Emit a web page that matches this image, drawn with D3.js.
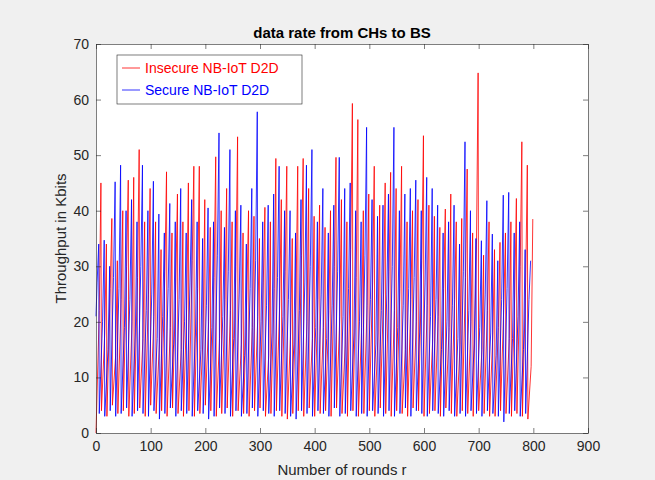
<!DOCTYPE html>
<html>
<head>
<meta charset="utf-8">
<script src="https://cdn.jsdelivr.net/npm/d3@7"></script>
<style>
  body { margin: 0; background: #f0f0f0; }
  svg { display: block; font-family: "Liberation Sans", Arial, sans-serif; }
</style>
</head>
<body>
<div id="chart"></div>
<script>
// one cycle per 10 rounds: trough, mid (on the rise), peak
const period = 10;
const seriesNames = ["Insecure NB-IoT D2D", "Secure NB-IoT D2D"];
const xTicks = [0, 100, 200, 300, 400, 500, 600, 700, 800, 900];
const yTicks = [0, 10, 20, 30, 40, 50, 60, 70];

const redPeaks = [45, 34, 38.6, 31, 40, 45.5, 46, 51, 38, 44,
  38, 33, 47, 36, 43, 38, 45, 48, 48, 42,
  37, 49.7, 40, 44, 38, 53.3, 36, 40, 39, 35,
  40.6, 38, 49.4, 42, 48, 35, 48, 49.4, 44, 39,
  41, 37, 40, 49.6, 42, 38, 59.3, 56.4, 40, 43,
  48, 41, 45, 46.9, 44, 48, 38, 40, 42, 53.5,
  41, 39, 37, 40.3, 43, 38, 38.6, 47.5, 36, 64.8,
  32, 38, 33, 34.3, 36, 38, 42.2, 52.4, 48.2, 38.5];
const redMids = [22, 18, 26, 14, 24, 30, 20, 28, 17, 25,
  21, 16, 29, 19, 27, 15, 23, 31, 26, 18,
  20, 28, 17, 24, 22, 30, 16, 25, 19, 21,
  27, 14, 26, 23, 29, 18, 25, 32, 20, 17,
  24, 19, 22, 30, 21, 16, 33, 28, 19, 23,
  27, 18, 25, 29, 22, 26, 15, 24, 20, 31,
  23, 17, 21, 26, 19, 24, 16, 28, 20, 34,
  15, 22, 18, 19, 23, 17, 25, 30, 27, 12];
const redTroughs = [0, 4, 3, 5, 3.5, 4, 3, 3.5, 4.5, 3,
  5, 3.5, 4, 3, 4.5, 3.5, 3, 4, 3, 3.5,
  5, 4, 3, 3.5, 4.5, 3, 4, 3.5, 3, 4,
  4.5, 3, 3.5, 4, 3, 2.5, 3.5, 4, 3, 4.5,
  3, 3.5, 4, 3, 4.5, 3.5, 3, 4, 3, 3.5,
  4, 3, 4.5, 3.5, 3, 4, 3.5, 3, 4.5, 4,
  3, 3.5, 4, 3, 4.5, 3.5, 3, 4, 3.5, 3,
  4, 3.5, 3, 3, 4, 3.5, 3, 3.5, 3, 2.5];

const bluePeaks = [34, 34.7, 30, 45.2, 48.2, 40, 42, 38, 48.2, 40,
  45.3, 39.4, 36, 41.3, 38, 44, 36, 42, 38, 35,
  40.5, 38, 54, 37, 51, 40, 41, 34, 44, 57.8,
  38, 41, 43, 48, 40, 40, 36, 42, 48.2, 51,
  38, 44, 36, 41, 49.6, 44, 45, 40, 38, 55,
  42, 39, 41, 43, 55, 40, 43, 44, 45.5, 40,
  46, 44, 41, 36, 38, 41, 34, 52.4, 40, 35,
  34.6, 41.8, 35.8, 31, 42.8, 43.3, 36, 38, 33, 31];
const blueMids = [27, 20, 15, 28, 26, 19, 24, 18, 30, 22,
  25, 17, 21, 26, 16, 24, 20, 27, 18, 15,
  23, 19, 32, 21, 29, 17, 25, 14, 26, 31,
  20, 23, 18, 28, 21, 24, 16, 22, 27, 30,
  19, 25, 17, 23, 29, 21, 26, 18, 20, 32,
  24, 16, 22, 25, 30, 19, 23, 26, 28, 18,
  27, 21, 24, 15, 20, 23, 17, 29, 22, 16,
  19, 25, 18, 14, 24, 26, 17, 21, 15, 24];
const blueTroughs = [21, 3.5, 3, 4, 3, 3.5, 4.5, 3, 4, 3.5,
  3, 4, 2.5, 3.5, 4.5, 3, 4, 3.5, 3, 4,
  3.5, 2.5, 3, 4.5, 3.5, 3, 4, 3, 3.5, 4.5,
  3, 4, 3.5, 3, 4, 3.5, 3, 2.5, 4, 3.5,
  3, 4, 3.5, 3, 4.5, 3, 3.5, 4, 3, 3.5,
  3, 4, 3.5, 3, 4, 3, 3.5, 4.5, 3, 4,
  3.5, 3, 4, 3.5, 3, 4, 3, 3.5, 3, 4,
  3.5, 3, 4, 3.5, 3, 2, 3.5, 4, 3, 3.5];

// trough -> mid -> peak per cycle, shifted in rounds
function buildSeries(troughs, mids, peaks, shift) {
  const pts = [];
  troughs.forEach((t, k) => {
    pts.push([Math.max(0, k * period + shift), t]);
    pts.push([Math.max(0, k * period + 6 + shift), mids[k]]);
    pts.push([Math.max(0, k * period + 9 + shift), peaks[k]]);
  });
  return pts;
}

const width = 655;
const height = 480;
const margin = { top: 44, right: 67, bottom: 47, left: 96 };
const innerWidth = width - margin.left - margin.right;
const innerHeight = height - margin.top - margin.bottom;

const svg = d3.select("#chart").append("svg")
  .attr("width", width)
  .attr("height", height);

const g = svg.append("g")
  .attr("transform", `translate(${margin.left},${margin.top})`);

const xScale = d3.scaleLinear().domain([0, 900]).range([0, innerWidth]);
const yScale = d3.scaleLinear().domain([0, 70]).range([innerHeight, 0]);

g.append("rect")
  .attr("width", innerWidth)
  .attr("height", innerHeight)
  .attr("fill", "white");

// lines
const line = d3.line().x(d => xScale(d[0])).y(d => yScale(d[1]));
const series = [
  { name: seriesNames[0], color: "#ff0000", pts: buildSeries(redTroughs, redMids, redPeaks, 0) },
  { name: seriesNames[1], color: "#0000ff", pts: buildSeries(blueTroughs, blueMids, bluePeaks, -4) }
];
series.forEach(s => {
  g.append("path")
    .attr("d", line(s.pts))
    .attr("fill", "none")
    .attr("stroke", s.color)
    .attr("stroke-width", 1)
    .attr("stroke-opacity", 0.8);
});

// axes (box on, ticks inward)
const axisColor = "#262626";
g.append("g")
  .attr("transform", `translate(0,${innerHeight})`)
  .call(d3.axisBottom(xScale).tickValues(xTicks).tickSizeInner(-5).tickSizeOuter(0).tickPadding(8));
g.append("g")
  .call(d3.axisLeft(yScale).tickValues(yTicks).tickSizeInner(-5).tickSizeOuter(0).tickPadding(7));
g.append("g")
  .call(d3.axisTop(xScale).tickValues(xTicks).tickSizeInner(-5).tickSizeOuter(0).tickFormat(""));
g.append("g")
  .attr("transform", `translate(${innerWidth},0)`)
  .call(d3.axisRight(yScale).tickValues(yTicks).tickSizeInner(-5).tickSizeOuter(0).tickFormat(""));

g.selectAll(".domain").attr("stroke", axisColor).attr("stroke-width", 0.6);
g.selectAll(".tick line").attr("stroke", axisColor).attr("stroke-width", 0.6);
g.selectAll(".tick text").attr("fill", axisColor).attr("font-size", "14px")
  .attr("font-family", "Liberation Sans, Arial, sans-serif");

// title and labels
svg.append("text")
  .attr("x", margin.left + innerWidth / 2)
  .attr("y", 38)
  .attr("text-anchor", "middle")
  .attr("font-size", "15px")
  .attr("font-weight", "bold")
  .attr("fill", "#000")
  .text("data rate from CHs to BS");

svg.append("text")
  .attr("x", margin.left + innerWidth / 2)
  .attr("y", 475)
  .attr("text-anchor", "middle")
  .attr("font-size", "15px")
  .attr("fill", axisColor)
  .text("Number of rounds r");

svg.append("text")
  .attr("transform", "rotate(-90)")
  .attr("x", -(margin.top + innerHeight / 2))
  .attr("y", 66)
  .attr("text-anchor", "middle")
  .attr("font-size", "15px")
  .attr("fill", axisColor)
  .text("Throughput in Kbits");

// legend
const legend = svg.append("g").attr("transform", "translate(117,55)");
legend.append("rect")
  .attr("width", 185)
  .attr("height", 49)
  .attr("fill", "white")
  .attr("stroke", axisColor)
  .attr("stroke-width", 0.6);
series.forEach((s, i) => {
  const y = 13 + i * 22;
  legend.append("line")
    .attr("x1", 5).attr("x2", 23)
    .attr("y1", y).attr("y2", y)
    .attr("stroke", s.color)
    .attr("stroke-width", 0.8);
  legend.append("text")
    .attr("x", 28)
    .attr("y", y + 5)
    .attr("font-size", "14px")
    .attr("fill", s.color)
    .text(s.name);
});
</script>
</body>
</html>
